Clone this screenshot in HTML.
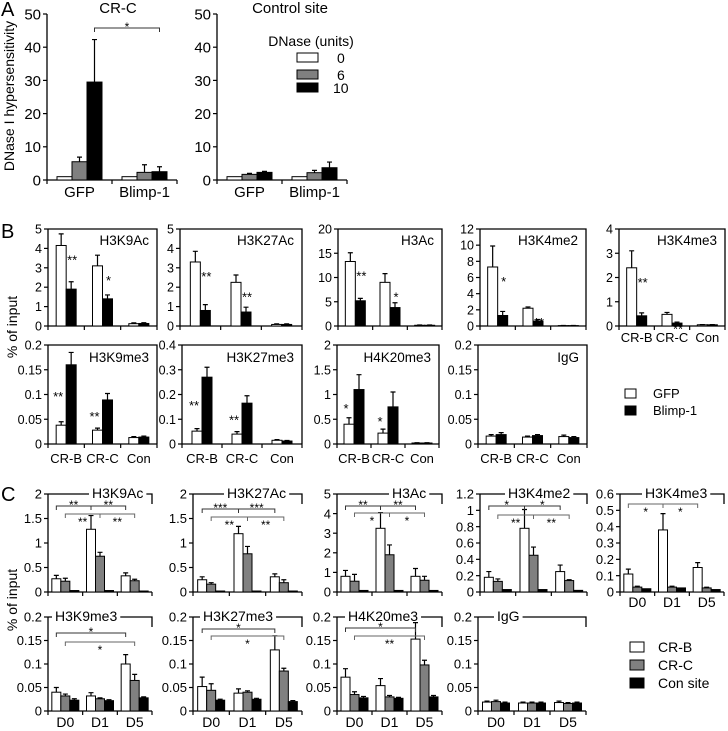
<!DOCTYPE html>
<html><head><meta charset="utf-8"><style>
html,body{margin:0;padding:0;background:#fff;}
svg{display:block;font-family:"Liberation Sans",Arial,sans-serif;}
</style></head><body>
<svg id="fig" width="728" height="731" viewBox="0 0 728 731" xmlns="http://www.w3.org/2000/svg">
<text x="1" y="16" font-size="20">A</text>
<text x="1" y="238" font-size="20">B</text>
<text x="1" y="501" font-size="20">C</text>
<text transform="translate(14,96) rotate(-90)" text-anchor="middle" font-size="14">DNase I hypersensitivity</text>
<text transform="translate(17,327) rotate(-90)" text-anchor="middle" font-size="14">% of input</text>
<text transform="translate(17,600) rotate(-90)" text-anchor="middle" font-size="14">% of input</text>
<text x="118" y="13" text-anchor="middle" font-size="15">CR-C</text>
<text x="290" y="13" text-anchor="middle" font-size="15">Control site</text>
<g>
<text x="311" y="46" text-anchor="middle" font-size="14">DNase (units)</text>
<rect x="297" y="53" width="21" height="9" fill="#fff" stroke="#000"/>
<text x="337" y="63" font-size="14">0</text>
<rect x="297" y="70" width="21" height="9" fill="#808080" stroke="#000"/>
<text x="337" y="80" font-size="14">6</text>
<rect x="297" y="83" width="21" height="9" fill="#000" stroke="#000"/>
<text x="333" y="93" font-size="14">10</text>
</g>
<g>
<rect x="625" y="389" width="11" height="9" fill="#fff" stroke="#000"/>
<text x="653" y="398" font-size="13">GFP</text>
<rect x="625" y="406" width="11" height="9" fill="#000" stroke="#000"/>
<text x="653" y="415" font-size="13">Blimp-1</text>
</g>
<g>
<rect x="630" y="642" width="14" height="10" fill="#fff" stroke="#000"/>
<text x="658" y="652" font-size="14">CR-B</text>
<rect x="630" y="660" width="14" height="10" fill="#808080" stroke="#000"/>
<text x="658" y="670" font-size="14">CR-C</text>
<rect x="630" y="678" width="14" height="10" fill="#000" stroke="#000"/>
<text x="658" y="688" font-size="14">Con site</text>
</g>
</svg>
<script>
// ---------- Panel A data ----------
const aCats = ['GFP','Blimp-1'];
const aTicks = [0,10,20,30,40,50];
const aCRC0 = [1,1], aCRC0Err = [0,0];
const aCRC6 = [5.5,2.3], aCRC6Err = [1.4,2.3];
const aCRC10 = [29.5,2.5], aCRC10Err = [12.8,1.5];
const aCtl0 = [1,1], aCtl0Err = [0,0];
const aCtl6 = [1.7,2.2], aCtl6Err = [0.3,0.7];
const aCtl10 = [2.3,3.7], aCtl10Err = [0.3,1.7];

// ---------- Panel B data ----------
const bCats = ['CR-B','CR-C','Con'];
const bH3K9Ac_gfp=[4.15,3.1,0.12], bH3K9Ac_gfpErr=[0.6,0.55,0.04], bH3K9Ac_blimp=[1.9,1.4,0.13], bH3K9Ac_blimpErr=[0.38,0.2,0.04];
const bH3K27Ac_gfp=[3.3,2.25,0.08], bH3K27Ac_gfpErr=[0.55,0.38,0.03], bH3K27Ac_blimp=[0.8,0.72,0.08], bH3K27Ac_blimpErr=[0.3,0.25,0.03];
const bH3Ac_gfp=[13.3,9,0.15], bH3Ac_gfpErr=[1.8,1.8,0.05], bH3Ac_blimp=[5.2,3.8,0.15], bH3Ac_blimpErr=[0.5,1,0.05];
const bH3K4me2_gfp=[7.3,2.2,0.05], bH3K4me2_gfpErr=[2.6,0.15,0.02], bH3K4me2_blimp=[1.3,0.6,0.05], bH3K4me2_blimpErr=[0.5,0.2,0.02];
const bH3K4me3_gfp=[2.4,0.48,0.05], bH3K4me3_gfpErr=[0.7,0.08,0.01], bH3K4me3_blimp=[0.42,0.12,0.05], bH3K4me3_blimpErr=[0.12,0.04,0.01];
const bH3K9me3_gfp=[0.038,0.028,0.013], bH3K9me3_gfpErr=[0.007,0.004,0.002], bH3K9me3_blimp=[0.16,0.089,0.014], bH3K9me3_blimpErr=[0.025,0.013,0.002];
const bH3K27me3_gfp=[0.052,0.04,0.015], bH3K27me3_gfpErr=[0.01,0.01,0.003], bH3K27me3_blimp=[0.27,0.165,0.012], bH3K27me3_blimpErr=[0.04,0.03,0.002];
const bH4K20me3_gfp=[0.4,0.22,0.02], bH4K20me3_gfpErr=[0.13,0.08,0.005], bH4K20me3_blimp=[1.1,0.75,0.02], bH4K20me3_blimpErr=[0.3,0.3,0.005];
const bIgG_gfp=[0.016,0.014,0.015], bIgG_gfpErr=[0.003,0.002,0.003], bIgG_blimp=[0.019,0.017,0.013], bIgG_blimpErr=[0.004,0.002,0.002];

// ---------- Panel C data ----------
const cCats = ['D0','D1','D5'];
const cH3K9Ac_crb=[0.27,1.28,0.33], cH3K9Ac_crbErr=[0.07,0.28,0.06], cH3K9Ac_crc=[0.22,0.73,0.23], cH3K9Ac_crcErr=[0.06,0.08,0.03], cH3K9Ac_con=[0.03,0.03,0.02], cH3K9Ac_conErr=[0,0,0];
const cH3K27Ac_crb=[0.25,1.19,0.31], cH3K27Ac_crbErr=[0.06,0.15,0.06], cH3K27Ac_crc=[0.16,0.78,0.19], cH3K27Ac_crcErr=[0.03,0.15,0.06], cH3K27Ac_con=[0.02,0.02,0.02], cH3K27Ac_conErr=[0,0,0];
const cH3Ac_crb=[0.8,3.25,0.8], cH3Ac_crbErr=[0.3,0.8,0.4], cH3Ac_crc=[0.55,1.9,0.6], cH3Ac_crcErr=[0.35,0.5,0.2], cH3Ac_con=[0.08,0.08,0.08], cH3Ac_conErr=[0,0,0];
const cH3K4me2_crb=[0.18,0.78,0.25], cH3K4me2_crbErr=[0.07,0.23,0.08], cH3K4me2_crc=[0.13,0.45,0.14], cH3K4me2_crcErr=[0.03,0.1,0.01], cH3K4me2_con=[0.03,0.03,0.02], cH3K4me2_conErr=[0,0,0];
const cH3K4me3_crb=[0.11,0.38,0.15], cH3K4me3_crbErr=[0.03,0.1,0.03], cH3K4me3_crc=[0.03,0.03,0.025], cH3K4me3_crcErr=[0.005,0.005,0.004], cH3K4me3_con=[0.02,0.025,0.015], cH3K4me3_conErr=[0,0,0];
const cH3K9me3_crb=[0.04,0.032,0.1], cH3K9me3_crbErr=[0.01,0.007,0.02], cH3K9me3_crc=[0.032,0.026,0.065], cH3K9me3_crcErr=[0.004,0.002,0.013], cH3K9me3_con=[0.023,0.022,0.028], cH3K9me3_conErr=[0.003,0.002,0.002];
const cH3K27me3_crb=[0.052,0.038,0.13], cH3K27me3_crbErr=[0.02,0.009,0.03], cH3K27me3_crc=[0.044,0.04,0.085], cH3K27me3_crcErr=[0.014,0.003,0.006], cH3K27me3_con=[0.023,0.025,0.02], cH3K27me3_conErr=[0.002,0.002,0.002];
const cH4K20me3_crb=[0.072,0.054,0.153], cH4K20me3_crbErr=[0.018,0.015,0.035], cH4K20me3_crc=[0.035,0.03,0.098], cH4K20me3_crcErr=[0.006,0.003,0.01], cH4K20me3_con=[0.028,0.027,0.03], cH4K20me3_conErr=[0.003,0.002,0.003];
const cIgG_crb=[0.019,0.017,0.018], cIgG_crbErr=[0.002,0.002,0.003], cIgG_crc=[0.02,0.017,0.016], cIgG_crcErr=[0.003,0.002,0.002], cIgG_con=[0.017,0.017,0.017], cIgG_conErr=[0.002,0.002,0.002];

const NS='http://www.w3.org/2000/svg';
const svg=document.getElementById('fig');
function mk(tag,attrs,parent){const e=document.createElementNS(NS,tag);for(const k in attrs)e.setAttribute(k,attrs[k]);(parent||svg).appendChild(e);return e;}
const WHITE='#fff',GRAY='#808080',BLACK='#000';

function drawBars(cfg){
  const g=mk('g',{});
  
  
  const h=cfg.y0-cfg.top;
  const Y=v=>cfg.y0-v/cfg.max*h;
  const n=cfg.cats.length, gw=(cfg.right-cfg.ax)/n, ns=cfg.series.length;
  const bx=(i,j)=>cfg.ax+gw*(i+0.5)-ns*cfg.barW/2+j*cfg.barW;
  const cx=(i,j)=>bx(i,j)+cfg.barW/2;
  const ya=mk('line',{x1:cfg.ax,y1:cfg.top,x2:cfg.ax,y2:cfg.y0,stroke:'#000','stroke-width':1.3},g);
  
  
  const xa=mk('line',{x1:cfg.ax,y1:cfg.y0,x2:cfg.right,y2:cfg.y0,stroke:'#000','stroke-width':1.3},g);
  
  
  if(cfg.frame==='B'){
    const f=mk('path',{d:`M${cfg.ax},${cfg.top}H${cfg.right}V${cfg.y0}`,fill:'none',stroke:'#000','stroke-width':1.3},g);
    
    
  }
  for(let k=0;k<=n;k++){
    const x=cfg.ax+gw*k;
    mk('line',{x1:x,y1:cfg.y0,x2:x,y2:cfg.y0+4,stroke:'#000','stroke-width':1.2},g);
  }
  cfg.tickVals.forEach((v,k)=>{
    mk('line',{x1:cfg.ax-4,y1:Y(v),x2:cfg.ax,y2:Y(v),stroke:'#000','stroke-width':1.2},g);
    const t=mk('text',{x:cfg.ax-6,y:Y(v)+cfg.fs*0.36,'text-anchor':'end','font-size':cfg.fs},g);
    t.textContent=cfg.tickLabels[k];
    
    
  });
  cfg.series.forEach((s,j)=>{
    s[0].forEach((v,i)=>{
      const r=mk('rect',{x:bx(i,j),y:Y(v),width:cfg.barW,height:cfg.y0-Y(v),fill:s[2],stroke:'#000','stroke-width':1},g);
      
      
      const e=s[1][i];
      if(e>0){
        const c=cx(i,j);
        const eb=mk('path',{d:`M${c},${Y(v)}V${Y(v+e)}M${c-2.5},${Y(v+e)}H${c+2.5}`,stroke:'#000','stroke-width':1.2,fill:'none'},g);
        
        
      }
    });
  });
  if(cfg.showX){
    cfg.cats.forEach((c,i)=>{
      const t=mk('text',{x:cfg.ax+gw*(i+0.5),y:cfg.xLabelY,'text-anchor':'middle','font-size':cfg.xfs||cfg.fs+1},g);
      t.textContent=c;
      
      
    });
  }
  if(cfg.frame==='B'){
    const t=mk('text',{x:cfg.right-8,y:cfg.titleY,'text-anchor':'end','font-size':13.5},g);
    t.textContent=cfg.title;
    
    
  }
  if(cfg.frame==='C'){
    const t=mk('text',{x:cfg.ax+cfg.titleOff,y:cfg.top+4,'font-size':14},g);
    t.textContent=cfg.title;
    
    
    let w=cfg.title.length*8;
    try{w=t.getComputedTextLength();}catch(e){}
    const f=mk('path',{d:`M${cfg.ax},${cfg.top}H${cfg.ax+cfg.titleOff-3}M${cfg.ax+cfg.titleOff+w+3},${cfg.top}H${cfg.right}V${cfg.top+10}`,fill:'none',stroke:'#000','stroke-width':1.3},g);
    
    
  }
  (cfg.stars||[]).forEach(s=>{
    let x,y;
    const wv=cfg.series[0][0][s[0]], bv=cfg.series[1][0][s[0]];
    if(s[1]==='right'){x=cx(s[0],1)+1;y=Y(wv)+19;}
    else{x=bx(s[0],0)+2;y=(Y(wv)+Y(bv))/2+6;}
    const t=mk('text',{x:x,y:y,'text-anchor':'middle','font-size':13},g);
    t.textContent=s[2];
    
    
  });
  (cfg.brackets||[]).forEach(b=>{
    const x1=cx(b[0],b[1]),x2=cx(b[2],b[3]),y=cfg.bracketY[b[4]];
    const col=b[4]===0?'#333':'#666';
    const p=mk('path',{d:`M${x1},${y+4}V${y}H${x2}V${y+4}`,fill:'none',stroke:col,'stroke-width':1},g);
    
    
    const t=mk('text',{x:(x1+x2)/2,y:b[4]===0?y+3:y+12,'text-anchor':'middle','font-size':12},g);
    t.textContent=b[5];
    
    
  });
  return cfg;
}

// Panel A
const aTickLabels=aTicks.map(String);
drawBars({name:'a-crc-chart',ax:47,right:177,top:14,y0:180,max:50,tickVals:aTicks,tickLabels:aTickLabels,cats:aCats,
  series:[[aCRC0,aCRC0Err,WHITE,'0'],[aCRC6,aCRC6Err,GRAY,'6'],[aCRC10,aCRC10Err,BLACK,'10']],barW:15,frame:'A',fs:15,xfs:15,showX:true,xLabelY:197,
  brackets:[[0,2,1,2,0,'*']],bracketY:[28]});
drawBars({name:'a-control-chart',ax:217,right:347,top:14,y0:180,max:50,tickVals:aTicks,tickLabels:aTickLabels,cats:aCats,
  series:[[aCtl0,aCtl0Err,WHITE,'0'],[aCtl6,aCtl6Err,GRAY,'6'],[aCtl10,aCtl10Err,BLACK,'10']],barW:15,frame:'A',fs:15,xfs:15,showX:true,xLabelY:197});

// Panel B
function rng(a,b,s){const r=[];for(let v=a;v<=b+1e-9;v+=s)r.push(+v.toFixed(3));return r;}
function bs(g,ge,b,be){return [[g,ge,WHITE,'gfp'],[b,be,BLACK,'blimp']];}
const bTop=[229,326], bBot=[345,444];
const bFive=rng(0,5,1), b20=rng(0,20,5), b12=rng(0,12,2), b4=rng(0,4,1), b02=[0,0.05,0.1,0.15,0.2], b04=[0,0.1,0.2,0.3,0.4], b2=[0,0.5,1,1.5,2];
const fmt=v=>String(v);
drawBars({name:'b-h3k9ac-chart',ax:48,right:157,top:bTop[0],y0:bTop[1],max:5,tickVals:bFive,tickLabels:bFive.map(fmt),cats:bCats,series:bs(bH3K9Ac_gfp,bH3K9Ac_gfpErr,bH3K9Ac_blimp,bH3K9Ac_blimpErr),barW:10,frame:'B',fs:12.5,title:'H3K9Ac',titleY:245,stars:[[0,'right','**'],[1,'right','*']]});
drawBars({name:'b-h3k27ac-chart',ax:180,right:302,top:bTop[0],y0:bTop[1],max:5,tickVals:bFive,tickLabels:bFive.map(fmt),cats:bCats,series:bs(bH3K27Ac_gfp,bH3K27Ac_gfpErr,bH3K27Ac_blimp,bH3K27Ac_blimpErr),barW:10,frame:'B',fs:12.5,title:'H3K27Ac',titleY:245,stars:[[0,'right','**'],[1,'right','**']]});
drawBars({name:'b-h3ac-chart',ax:338,right:442,top:bTop[0],y0:bTop[1],max:20,tickVals:b20,tickLabels:b20.map(fmt),cats:bCats,series:bs(bH3Ac_gfp,bH3Ac_gfpErr,bH3Ac_blimp,bH3Ac_blimpErr),barW:10,frame:'B',fs:12.5,title:'H3Ac',titleY:245,stars:[[0,'right','**'],[1,'right','*']]});
drawBars({name:'b-h3k4me2-chart',ax:480,right:586,top:bTop[0],y0:bTop[1],max:12,tickVals:b12,tickLabels:b12.map(fmt),cats:bCats,series:bs(bH3K4me2_gfp,bH3K4me2_gfpErr,bH3K4me2_blimp,bH3K4me2_blimpErr),barW:10,frame:'B',fs:12.5,title:'H3K4me2',titleY:245,stars:[[0,'right','*'],[1,'right','**']]});
drawBars({name:'b-h3k4me3-chart',ax:619,right:725,top:bTop[0],y0:bTop[1],max:4,tickVals:b4,tickLabels:b4.map(fmt),cats:bCats,series:bs(bH3K4me3_gfp,bH3K4me3_gfpErr,bH3K4me3_blimp,bH3K4me3_blimpErr),barW:10,frame:'B',fs:12.5,xfs:13,title:'H3K4me3',titleY:245,showX:true,xLabelY:342,stars:[[0,'right','**'],[1,'right','**']]});
drawBars({name:'b-h3k9me3-chart',ax:48,right:157,top:bBot[0],y0:bBot[1],max:0.2,tickVals:b02,tickLabels:b02.map(fmt),cats:bCats,series:bs(bH3K9me3_gfp,bH3K9me3_gfpErr,bH3K9me3_blimp,bH3K9me3_blimpErr),barW:10,frame:'B',fs:12.5,xfs:13,title:'H3K9me3',titleY:362,showX:true,xLabelY:463,stars:[[0,'left','**'],[1,'left','**']]});
drawBars({name:'b-h3k27me3-chart',ax:182,right:302,top:bBot[0],y0:bBot[1],max:0.4,tickVals:b04,tickLabels:b04.map(fmt),cats:bCats,series:bs(bH3K27me3_gfp,bH3K27me3_gfpErr,bH3K27me3_blimp,bH3K27me3_blimpErr),barW:10,frame:'B',fs:12.5,xfs:13,title:'H3K27me3',titleY:362,showX:true,xLabelY:463,stars:[[0,'left','**'],[1,'left','**']]});
drawBars({name:'b-h4k20me3-chart',ax:337,right:439,top:bBot[0],y0:bBot[1],max:2,tickVals:b2,tickLabels:b2.map(fmt),cats:bCats,series:bs(bH4K20me3_gfp,bH4K20me3_gfpErr,bH4K20me3_blimp,bH4K20me3_blimpErr),barW:10,frame:'B',fs:12.5,xfs:13,title:'H4K20me3',titleY:362,showX:true,xLabelY:463,stars:[[0,'left','*'],[1,'left','*']]});
drawBars({name:'b-igg-chart',ax:478,right:587,top:bBot[0],y0:bBot[1],max:0.2,tickVals:b02,tickLabels:b02.map(fmt),cats:bCats,series:bs(bIgG_gfp,bIgG_gfpErr,bIgG_blimp,bIgG_blimpErr),barW:10,frame:'B',fs:12.5,xfs:13,title:'IgG',titleY:362,showX:true,xLabelY:463});

// Panel C
function cs(a,ae,b,be,c,ce){return [[a,ae,WHITE,'crb'],[b,be,GRAY,'crc'],[c,ce,BLACK,'con']];}
const cTop=[494,592], cBot=[617,711];
const c2=[0,0.5,1,1.5,2], c5=rng(0,5,1), c12=[0,0.2,0.4,0.6,0.8,1,1.2], c06=[0,0.1,0.2,0.3,0.4,0.5,0.6];
const fourBr=(a,b,c,d)=>[[0,0,1,0,0,a],[1,0,2,0,0,b],[0,1,1,1,1,c],[1,1,2,1,1,d]];
drawBars({name:'c-h3k9ac-chart',ax:48,right:152,top:cTop[0],y0:cTop[1],max:2,tickVals:c2,tickLabels:c2.map(fmt),cats:cCats,series:cs(cH3K9Ac_crb,cH3K9Ac_crbErr,cH3K9Ac_crc,cH3K9Ac_crcErr,cH3K9Ac_con,cH3K9Ac_conErr),barW:9,frame:'C',fs:13,title:'H3K9Ac',titleOff:44,brackets:fourBr('**','**','**','**'),bracketY:[506,514]});
drawBars({name:'c-h3k27ac-chart',ax:193,right:302,top:cTop[0],y0:cTop[1],max:2,tickVals:c2,tickLabels:c2.map(fmt),cats:cCats,series:cs(cH3K27Ac_crb,cH3K27Ac_crbErr,cH3K27Ac_crc,cH3K27Ac_crcErr,cH3K27Ac_con,cH3K27Ac_conErr),barW:9,frame:'C',fs:13,title:'H3K27Ac',titleOff:34,brackets:fourBr('***','***','**','**'),bracketY:[509,517]});
drawBars({name:'c-h3ac-chart',ax:337,right:442,top:cTop[0],y0:cTop[1],max:5,tickVals:c5,tickLabels:c5.map(fmt),cats:cCats,series:cs(cH3Ac_crb,cH3Ac_crbErr,cH3Ac_crc,cH3Ac_crcErr,cH3Ac_con,cH3Ac_conErr),barW:9,frame:'C',fs:13,title:'H3Ac',titleOff:55,brackets:fourBr('**','**','*','*'),bracketY:[506,513]});
drawBars({name:'c-h3k4me2-chart',ax:480,right:587,top:cTop[0],y0:cTop[1],max:1.2,tickVals:c12,tickLabels:c12.map(fmt),cats:cCats,series:cs(cH3K4me2_crb,cH3K4me2_crbErr,cH3K4me2_crc,cH3K4me2_crcErr,cH3K4me2_con,cH3K4me2_conErr),barW:9,frame:'C',fs:13,title:'H3K4me2',titleOff:28,brackets:fourBr('*','*','**','**'),bracketY:[506,515]});
drawBars({name:'c-h3k4me3-chart',ax:620,right:724,top:cTop[0],y0:cTop[1],max:0.6,tickVals:c06,tickLabels:c06.map(fmt),cats:cCats,series:cs(cH3K4me3_crb,cH3K4me3_crbErr,cH3K4me3_crc,cH3K4me3_crcErr,cH3K4me3_con,cH3K4me3_conErr),barW:9,frame:'C',fs:13,title:'H3K4me3',titleOff:25,showX:true,xLabelY:607,brackets:[[0,0,1,0,1,'*'],[1,0,2,0,1,'*']],bracketY:[503,504]});
const twoBr=(a,b)=>[[0,0,2,0,0,a],[0,1,2,1,1,b]];
drawBars({name:'c-h3k9me3-chart',ax:48,right:152,top:cBot[0],y0:cBot[1],max:0.2,tickVals:b02,tickLabels:b02.map(fmt),cats:cCats,series:cs(cH3K9me3_crb,cH3K9me3_crbErr,cH3K9me3_crc,cH3K9me3_crcErr,cH3K9me3_con,cH3K9me3_conErr),barW:9,frame:'C',fs:13,title:'H3K9me3',titleOff:7,showX:true,xLabelY:727,brackets:twoBr('*','*'),bracketY:[633,642]});
drawBars({name:'c-h3k27me3-chart',ax:193,right:302,top:cBot[0],y0:cBot[1],max:0.2,tickVals:b02,tickLabels:b02.map(fmt),cats:cCats,series:cs(cH3K27me3_crb,cH3K27me3_crbErr,cH3K27me3_crc,cH3K27me3_crcErr,cH3K27me3_con,cH3K27me3_conErr),barW:9,frame:'C',fs:13,title:'H3K27me3',titleOff:10,showX:true,xLabelY:727,brackets:twoBr('*','*'),bracketY:[629,636]});
drawBars({name:'c-h4k20me3-chart',ax:337,right:442,top:cBot[0],y0:cBot[1],max:0.2,tickVals:b02,tickLabels:b02.map(fmt),cats:cCats,series:cs(cH4K20me3_crb,cH4K20me3_crbErr,cH4K20me3_crc,cH4K20me3_crcErr,cH4K20me3_con,cH4K20me3_conErr),barW:9,frame:'C',fs:13,title:'H4K20me3',titleOff:11,showX:true,xLabelY:727,brackets:twoBr('*','**'),bracketY:[628,636]});
drawBars({name:'c-igg-chart',ax:478,right:586,top:cBot[0],y0:cBot[1],max:0.2,tickVals:b02,tickLabels:b02.map(fmt),cats:cCats,series:cs(cIgG_crb,cIgG_crbErr,cIgG_crc,cIgG_crcErr,cIgG_con,cIgG_conErr),barW:9,frame:'C',fs:13,title:'IgG',titleOff:19,showX:true,xLabelY:727});
</script>
</body></html>
